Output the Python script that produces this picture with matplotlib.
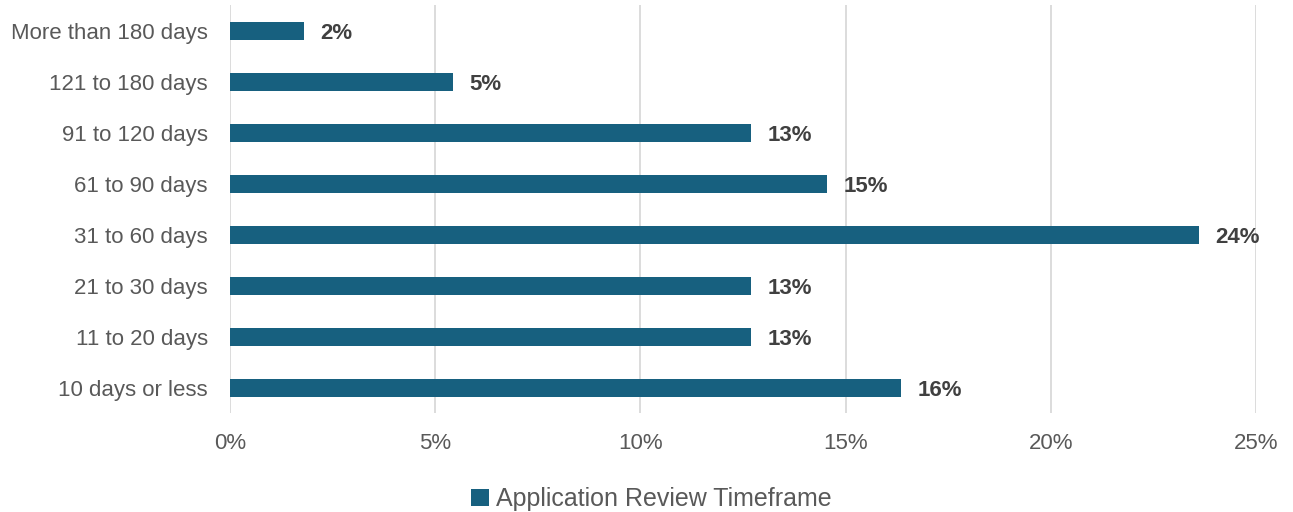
import matplotlib.pyplot as plt

# Application review timeframe shares (percent)
categories = ['10 days or less', '11 to 20 days', '21 to 30 days', '31 to 60 days',
              '61 to 90 days', '91 to 120 days', '121 to 180 days', 'More than 180 days']
shares = [16.35, 12.7, 12.7, 23.6, 14.55, 12.7, 5.43, 1.8]
tick_values = [0, 5, 10, 15, 20, 25]

bar_color = '#17607F'
text_color = '#595959'
plt.rcParams['font.family'] = ['Liberation Sans', 'DejaVu Sans']

fig = plt.figure(figsize=(12.93, 5.12), dpi=100)
ax = fig.add_axes([0.1779, 0.1924, 0.9714 - 0.1779, 0.9893 - 0.1924])

positions = list(range(len(categories)))
bars = ax.barh(positions, shares, height=0.34, color=bar_color,
               label='Application Review Timeframe', zorder=3)

for p, v in zip(positions, shares):
    ax.text(v + 0.4, p, f'{round(v):.0f}%', va='center_baseline', ha='left',
            fontsize=16, fontweight='bold', color='#404040')

ax.set_xlim(0, 25)
ax.set_ylim(-0.5, len(categories) - 0.5)
ax.set_xticks(tick_values)
ax.set_xticklabels([f'{t}%' for t in tick_values])
ax.set_yticks(positions)
ax.set_yticklabels(categories)
ax.tick_params(axis='both', length=0, labelsize=16, labelcolor=text_color)
ax.tick_params(axis='x', pad=14)
ax.tick_params(axis='y', pad=16)
ax.grid(axis='x', color='#D9D9D9', linewidth=1.3, zorder=0)
for s in ax.spines.values():
    s.set_visible(False)

fig.legend(handles=[bars], labels=['Application Review Timeframe'], loc='center',
           bbox_to_anchor=(0.504, 0.025), frameon=False, fontsize=18,
           labelcolor=text_color, handlelength=0.7, handleheight=0.7, handletextpad=0.3)

fig.savefig('out.png', dpi=100)
